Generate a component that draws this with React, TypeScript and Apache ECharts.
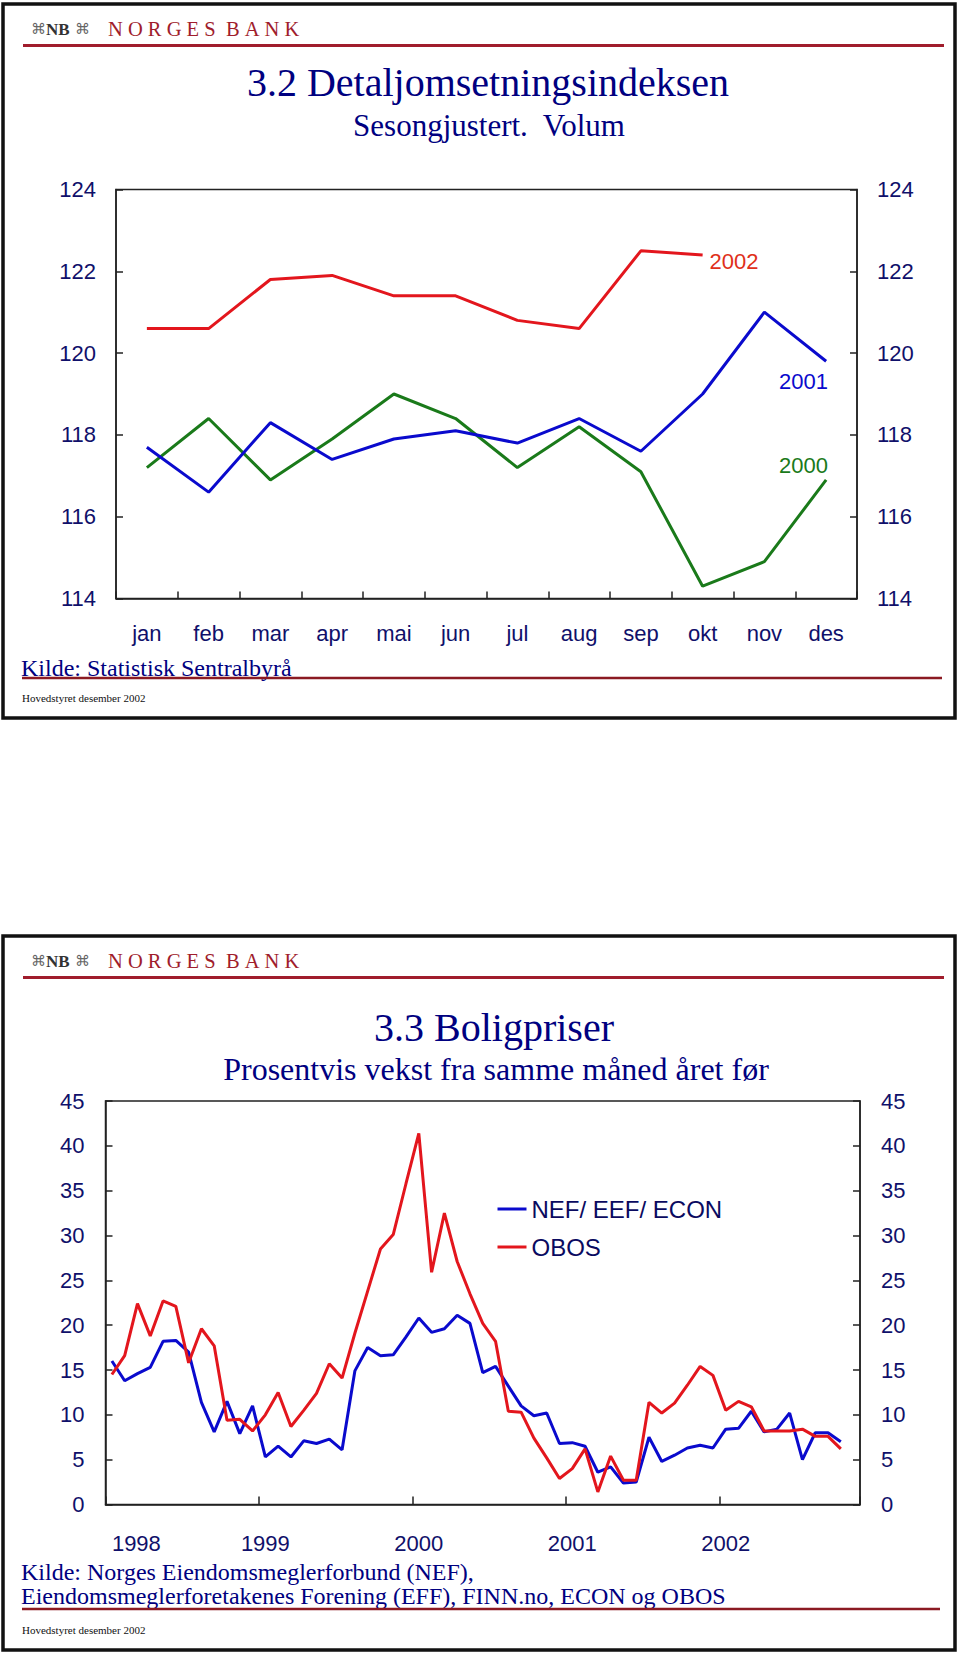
import React, { useEffect, useRef } from "react";
import * as echarts from "echarts";

// ---------- Chart 3.2 : Detaljomsetningsindeksen ----------
const months = ["jan", "feb", "mar", "apr", "mai", "jun", "jul", "aug", "sep", "okt", "nov", "des"];
const retail2002 = [120.6, 120.6, 121.8, 121.9, 121.4, 121.4, 120.8, 120.6, 122.5, 122.4];
const retail2001 = [117.7, 116.6, 118.3, 117.4, 117.9, 118.1, 117.8, 118.4, 117.6, 119.0, 121.0, 119.8];
const retail2000 = [117.2, 118.4, 116.9, 117.9, 119.0, 118.4, 117.2, 118.2, 117.1, 114.3, 114.9, 116.9];

// ---------- Chart 3.3 : Boligpriser ----------
const years = ["1998", "1999", "2000", "2001", "2002"];
const monthCount = 59; // jan 1998 - nov 2002
const nefEefEcon = [
  16.0, 13.8, 14.6, 15.3, 18.2, 18.3, 17.0, 11.4, 8.1, 11.5, 7.9, 11.0,
  5.3, 6.5, 5.3, 7.1, 6.8, 7.3, 6.1, 14.9, 17.5, 16.6, 16.7, 18.7,
  20.8, 19.2, 19.6, 21.1, 20.2, 14.7, 15.4, 13.2, 11.0, 9.9, 10.2, 6.8,
  6.9, 6.5, 3.6, 4.2, 2.4, 2.5, 7.5, 4.8, 5.5, 6.3, 6.6, 6.3,
  8.4, 8.5, 10.4, 8.1, 8.4, 10.2, 5.0, 8.0, 8.0, 7.0,
];
const obos = [
  14.5, 16.6, 22.4, 18.8, 22.7, 22.1, 15.8, 19.6, 17.7, 9.4, 9.5, 8.2,
  10.0, 12.5, 8.7, 10.5, 12.4, 15.7, 14.1, 19.1, 23.8, 28.5, 30.1, 35.8,
  41.4, 25.9, 32.5, 27.1, 23.5, 20.2, 18.2, 10.4, 10.3, 7.4, 5.2, 2.9,
  4.0, 6.2, 1.4, 5.4, 2.7, 2.7, 11.4, 10.2, 11.3, 13.3, 15.4, 14.4,
  10.5, 11.5, 10.9, 8.2, 8.2, 8.2, 8.4, 7.6, 7.6, 6.2,
];

const monthCategories = years
  .flatMap((y) => months.map((_, i) => `${y}-${String(i + 1).padStart(2, "0")}`))
  .slice(0, monthCount);

const SERIF = "'Liberation Serif', 'Times New Roman', serif";
const SANS = "'Liberation Sans', Arial, sans-serif";
const NAVY = "#000080";
const LABEL = "#10106a";
const AXIS = "#222222";
const RED = "#e3161d";
const BLUE = "#0a0acd";
const GREEN = "#1a7a1a";
const BANKRED = "#a01d2c";

const txt = (text: string, x: number, y: number, size: number, family: string, fill: string, align = "left", weight = "normal") => ({
  type: "text",
  silent: true,
  z: 10,
  style: {
    text,
    x,
    y,
    fontSize: size,
    fontFamily: family,
    fontWeight: weight,
    fill,
    textAlign: align,
    align,
    textVerticalAlign: "middle",
    verticalAlign: "middle",
  },
});

const hline = (y: number, x1: number, x2: number, color: string, w: number) => ({
  type: "line",
  silent: true,
  z: 10,
  shape: { x1, y1: y, x2, y2: y },
  style: { stroke: color, lineWidth: w },
});

const panel = (dy: number) => [
  {
    type: "rect",
    silent: true,
    z: 10,
    shape: { x: 3, y: 4 + dy, width: 952, height: 714 },
    style: { fill: "none", stroke: "#111", lineWidth: 3.5 },
  },
  txt("\u2318", 31, 29 + dy, 15, "'DejaVu Sans', sans-serif", "#666666"),
  txt("NB", 46, 29.5 + dy, 17, SERIF, "#333333", "left", "bold"),
  txt("\u2318", 75, 29 + dy, 15, "'DejaVu Sans', sans-serif", "#666666"),
  txt(
    "N\u00a0O\u00a0R\u00a0G\u00a0E\u00a0S\u00a0\u00a0B\u00a0A\u00a0N\u00a0K",
    108,
    29 + dy,
    20.5,
    SERIF,
    BANKRED
  ),
  hline(45.5 + dy, 23, 944, BANKRED, 3),
];

const axisLineStyle = { lineStyle: { color: AXIS, width: 1.5 } };

export default function App() {
  const ref = useRef<HTMLDivElement>(null);

  useEffect(() => {
    document.body.style.margin = "0";
    if (!ref.current) return;
    const chart = echarts.init(ref.current, null, { renderer: "svg" });

    const valueAxis = (gridIndex: number, position: string, min: number, max: number, interval: number, margin: number) => ({
      type: "value",
      gridIndex,
      position,
      min,
      max,
      interval,
      axisLine: { show: true, ...axisLineStyle },
      axisTick: { show: true, inside: true, length: 7, lineStyle: { color: AXIS, width: 1.5 } },
      splitLine: { show: false },
      axisLabel: { color: LABEL, fontSize: 22, fontFamily: SANS, margin },
    });

    const option = {
      animation: false,
      backgroundColor: "#ffffff",
      grid: [
        { left: 116, top: 189.5, width: 741, height: 409, show: true, borderColor: AXIS, borderWidth: 1.5 },
        { left: 105.5, top: 1101, width: 754.5, height: 403.5, show: true, borderColor: AXIS, borderWidth: 1.5 },
      ],
      xAxis: [
        {
          type: "category",
          gridIndex: 0,
          data: months,
          boundaryGap: true,
          axisLine: axisLineStyle,
          axisTick: { show: true, inside: true, interval: 0, length: 7, lineStyle: { color: AXIS, width: 1.5 } },
          axisLabel: { interval: 0, color: LABEL, fontSize: 22, fontFamily: SANS, margin: 24 },
        },
        {
          type: "category",
          gridIndex: 1,
          data: monthCategories,
          boundaryGap: true,
          axisLine: axisLineStyle,
          axisTick: {
            show: true,
            inside: true,
            interval: (i: number) => i % 12 === 0,
            length: 8,
            lineStyle: { color: AXIS, width: 1.5 },
          },
          axisLabel: {
            interval: (i: number) => i % 12 === 0,
            formatter: (v: string) => v.slice(0, 4),
            alignMinLabel: "left",
            color: LABEL,
            fontSize: 22,
            fontFamily: SANS,
            margin: 28,
          },
        },
      ],
      yAxis: [
        valueAxis(0, "left", 114, 124, 2, 20),
        valueAxis(0, "right", 114, 124, 2, 20),
        valueAxis(1, "left", 0, 45, 5, 21),
        valueAxis(1, "right", 0, 45, 5, 21),
      ],
      legend: {
        data: ["NEF/ EEF/ ECON", "OBOS"],
        orient: "vertical",
        left: 497.5,
        top: 1197,
        padding: 0,
        icon: "rect",
        itemWidth: 29,
        itemHeight: 3,
        itemGap: 14,
        selectedMode: false,
        textStyle: { fontSize: 24, color: "#0a0a60", fontFamily: SANS },
      },
      series: [
        {
          name: "2000",
          type: "line",
          xAxisIndex: 0,
          yAxisIndex: 0,
          data: retail2000,
          symbol: "none",
          lineStyle: { color: GREEN, width: 3 },
          itemStyle: { color: GREEN },
        },
        {
          name: "2001",
          type: "line",
          xAxisIndex: 0,
          yAxisIndex: 0,
          data: retail2001,
          symbol: "none",
          lineStyle: { color: BLUE, width: 3 },
          itemStyle: { color: BLUE },
        },
        {
          name: "2002",
          type: "line",
          xAxisIndex: 0,
          yAxisIndex: 0,
          data: retail2002,
          symbol: "none",
          lineStyle: { color: RED, width: 3 },
          itemStyle: { color: RED },
        },
        {
          name: "NEF/ EEF/ ECON",
          type: "line",
          xAxisIndex: 1,
          yAxisIndex: 2,
          data: nefEefEcon,
          symbol: "none",
          lineStyle: { color: BLUE, width: 3 },
          itemStyle: { color: BLUE },
        },
        {
          name: "OBOS",
          type: "line",
          xAxisIndex: 1,
          yAxisIndex: 2,
          data: obos,
          symbol: "none",
          lineStyle: { color: RED, width: 3 },
          itemStyle: { color: RED },
        },
      ],
      graphic: [
        ...panel(0),
        txt("3.2 Detaljomsetningsindeksen", 488, 82, 40, SERIF, NAVY, "center"),
        txt("Sesongjustert.\u00a0 Volum", 489, 125.5, 31, SERIF, NAVY, "center"),
        txt("2002", 709.5, 261, 22, SANS, "#e0301a"),
        txt("2001", 779, 381, 22, SANS, BLUE),
        txt("2000", 779, 465, 22, SANS, GREEN),
        txt("Kilde: Statistisk Sentralbyrå", 21, 668, 24, SERIF, NAVY),
        hline(678, 22, 942, "#8b1a22", 2.5),
        txt("Hovedstyret desember 2002", 22, 698, 11, SERIF, "#111111"),

        ...panel(932),
        txt("3.3 Boligpriser", 494, 1027, 40, SERIF, NAVY, "center"),
        txt("Prosentvis vekst fra samme måned året før", 496, 1069, 32, SERIF, NAVY, "center"),
        txt("Kilde: Norges Eiendomsmeglerforbund (NEF),", 21, 1572, 24, SERIF, NAVY),
        txt("Eiendomsmeglerforetakenes Forening (EFF), FINN.no, ECON og OBOS", 21, 1595.5, 24, SERIF, NAVY),
        hline(1609, 22, 940, "#8b1a22", 2.5),
        txt("Hovedstyret desember 2002", 22, 1630, 11, SERIF, "#111111"),
      ],
    };

    chart.setOption(option as any);
    return () => chart.dispose();
  }, []);

  return <div ref={ref} style={{ width: 960, height: 1654, background: "#ffffff" }} />;
}
